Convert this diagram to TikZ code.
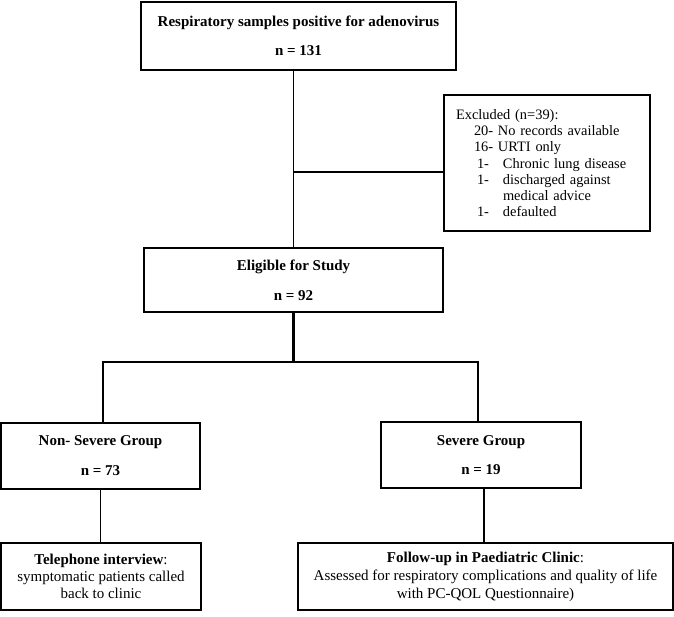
\documentclass[tikz,border=0pt]{standalone}
\usepackage{fontspec}
\setmainfont{Liberation Serif}
\begin{document}
\begin{tikzpicture}[
  x=1pt, y=-1pt,
  boxStyle/.style={draw, line width=1.2pt, inner sep=0pt, align=center, font=\fontsize{15}{18}\selectfont},
  linkStyle/.style={line width=1.1pt},
  splitStyle/.style={line width=2.4pt}]
\useasboundingbox (0,0) rectangle (674,616);

\node [boxStyle, minimum width=315, minimum height=68] (samples) at (298.5,36) {\textbf{Respiratory samples positive for adenovirus}\\[11pt]\textbf{n = 131}};
\node [boxStyle, minimum width=206, minimum height=136, inner xsep=12pt, text width=182pt, align=left, font=\fontsize{14.4}{15.9}\selectfont] (excluded) at (547,163) {Excluded (n=39):\\
\hspace*{18pt}20- No records available\\
\hspace*{18pt}16- URTI only\\[1pt]
\hspace*{21pt}\makebox[26pt][l]{1-}Chronic lung disease\\
\hspace*{21pt}\makebox[26pt][l]{1-}discharged against\\
\hspace*{47pt}medical advice\\
\hspace*{21pt}\makebox[26pt][l]{1-}defaulted};
\node [boxStyle, minimum width=299, minimum height=64] (eligible) at (293.5,280) {\textbf{Eligible for Study}\\[12pt]\textbf{n = 92}};

\node [boxStyle, minimum width=199, minimum height=66] (nonsevere) at (100.5,456) {\textbf{Non- Severe Group}\\[12pt]\textbf{n = 73}};
\node [boxStyle, minimum width=200, minimum height=66] (severe) at (481,455) {\textbf{Severe Group}\\[11pt]\textbf{n = 19}};

\node [boxStyle, minimum width=200, minimum height=67, font=\fontsize{15}{17}\selectfont] (phone) at (101,576.5) {\textbf{Telephone interview}:\\symptomatic patients called\\back to clinic};
\node [boxStyle, minimum width=375, minimum height=67] (followup) at (485.5,576.5) {\textbf{Follow-up in Paediatric Clinic}:\\Assessed for respiratory complications and quality of life\\with PC-QOL Questionnaire)};

% connectors
\coordinate (branch) at (293.5,172);
\coordinate (splitL) at (103,362);
\coordinate (splitM) at (293.5,362);
\coordinate (splitR) at (478,362);
\coordinate (drop) at (484,488);

\draw [linkStyle] (eligible.north |- samples.south) -- (eligible.north);
\draw [linkStyle] (branch) -- (branch -| excluded.west);
\draw [splitStyle] (eligible.south) -- (splitM);
\draw [splitStyle] ([xshift=-1pt]splitL) -- ([xshift=1pt]splitR);
\draw [linkStyle] (splitL) -- (splitL |- nonsevere.north);
\draw [linkStyle] (splitR) -- (splitR |- severe.north);
\draw [linkStyle] (nonsevere.south) -- (nonsevere.south |- phone.north);
\draw [linkStyle] (drop |- severe.south) -- (drop |- followup.north);
\end{tikzpicture}
\end{document}
